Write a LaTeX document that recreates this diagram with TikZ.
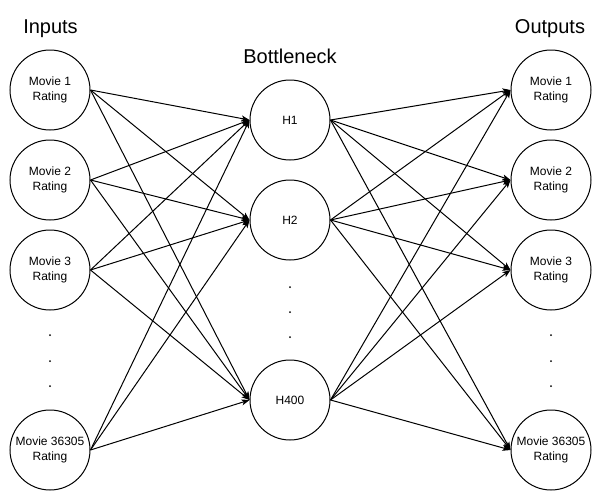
\documentclass[tikz,border=0pt]{standalone}
\usepackage{fontspec}
\setmainfont{Liberation Sans}
\usetikzlibrary{arrows.meta}
\begin{document}
\begin{tikzpicture}[x=1pt,y=-1pt,
  neuron/.style={draw=black,line width=1pt,circle,minimum size=80pt,inner sep=0pt,align=center,font=\fontsize{12}{15}\selectfont},
  title/.style={anchor=base,inner sep=0pt,font=\fontsize{20}{24}\selectfont},
  dotmark/.style={circle,fill=black,minimum size=2pt,inner sep=0pt},
  conn/.style={line width=1pt,-{Stealth[length=8pt,width=6pt,inset=2pt]}}]
\useasboundingbox (0,0) rectangle (606,501);
% titles
\node[title] (tin) at (50.5,33) {Inputs};
\node[title] (tbn) at (290,63) {Bottleneck};
\node[title] (tout) at (550,33) {Outputs};
% inputs
\node[neuron] (i1) at (50,90) {Movie 1\\Rating};
\node[neuron] (i2) at (50,180) {Movie 2\\Rating};
\node[neuron] (i3) at (50,270) {Movie 3\\Rating};
\node[neuron] (i4) at (50,450) {Movie 36305\\Rating};
% hidden
\node[neuron] (h1) at (290,120) {H1};
\node[neuron] (h2) at (290,220) {H2};
\node[neuron] (h3) at (290,400) {H400};
% outputs
\node[neuron] (o1) at (551,90) {Movie 1\\Rating};
\node[neuron] (o2) at (551,180) {Movie 2\\Rating};
\node[neuron] (o3) at (551,270) {Movie 3\\Rating};
\node[neuron] (o4) at (551,450) {Movie 36305\\Rating};
% dots
\node[dotmark] (di1) at (50,335) {};
\node[dotmark] (di2) at (50,361) {};
\node[dotmark] (di3) at (50,386) {};
\node[dotmark] (dh1) at (290,287) {};
\node[dotmark] (dh2) at (290,312) {};
\node[dotmark] (dh3) at (290,337) {};
\node[dotmark] (do1) at (551,335) {};
\node[dotmark] (do2) at (551,361) {};
\node[dotmark] (do3) at (551,386) {};
% connections
\foreach \i in {i1,i2,i3,i4}{
  \foreach \h in {h1,h2,h3}{
    \draw[conn] (\i.east) -- (\h.west);
  }
}
\foreach \h in {h1,h2,h3}{
  \foreach \o in {o1,o2,o3,o4}{
    \draw[conn] (\h.east) -- (\o.west);
  }
}
\end{tikzpicture}
\end{document}
